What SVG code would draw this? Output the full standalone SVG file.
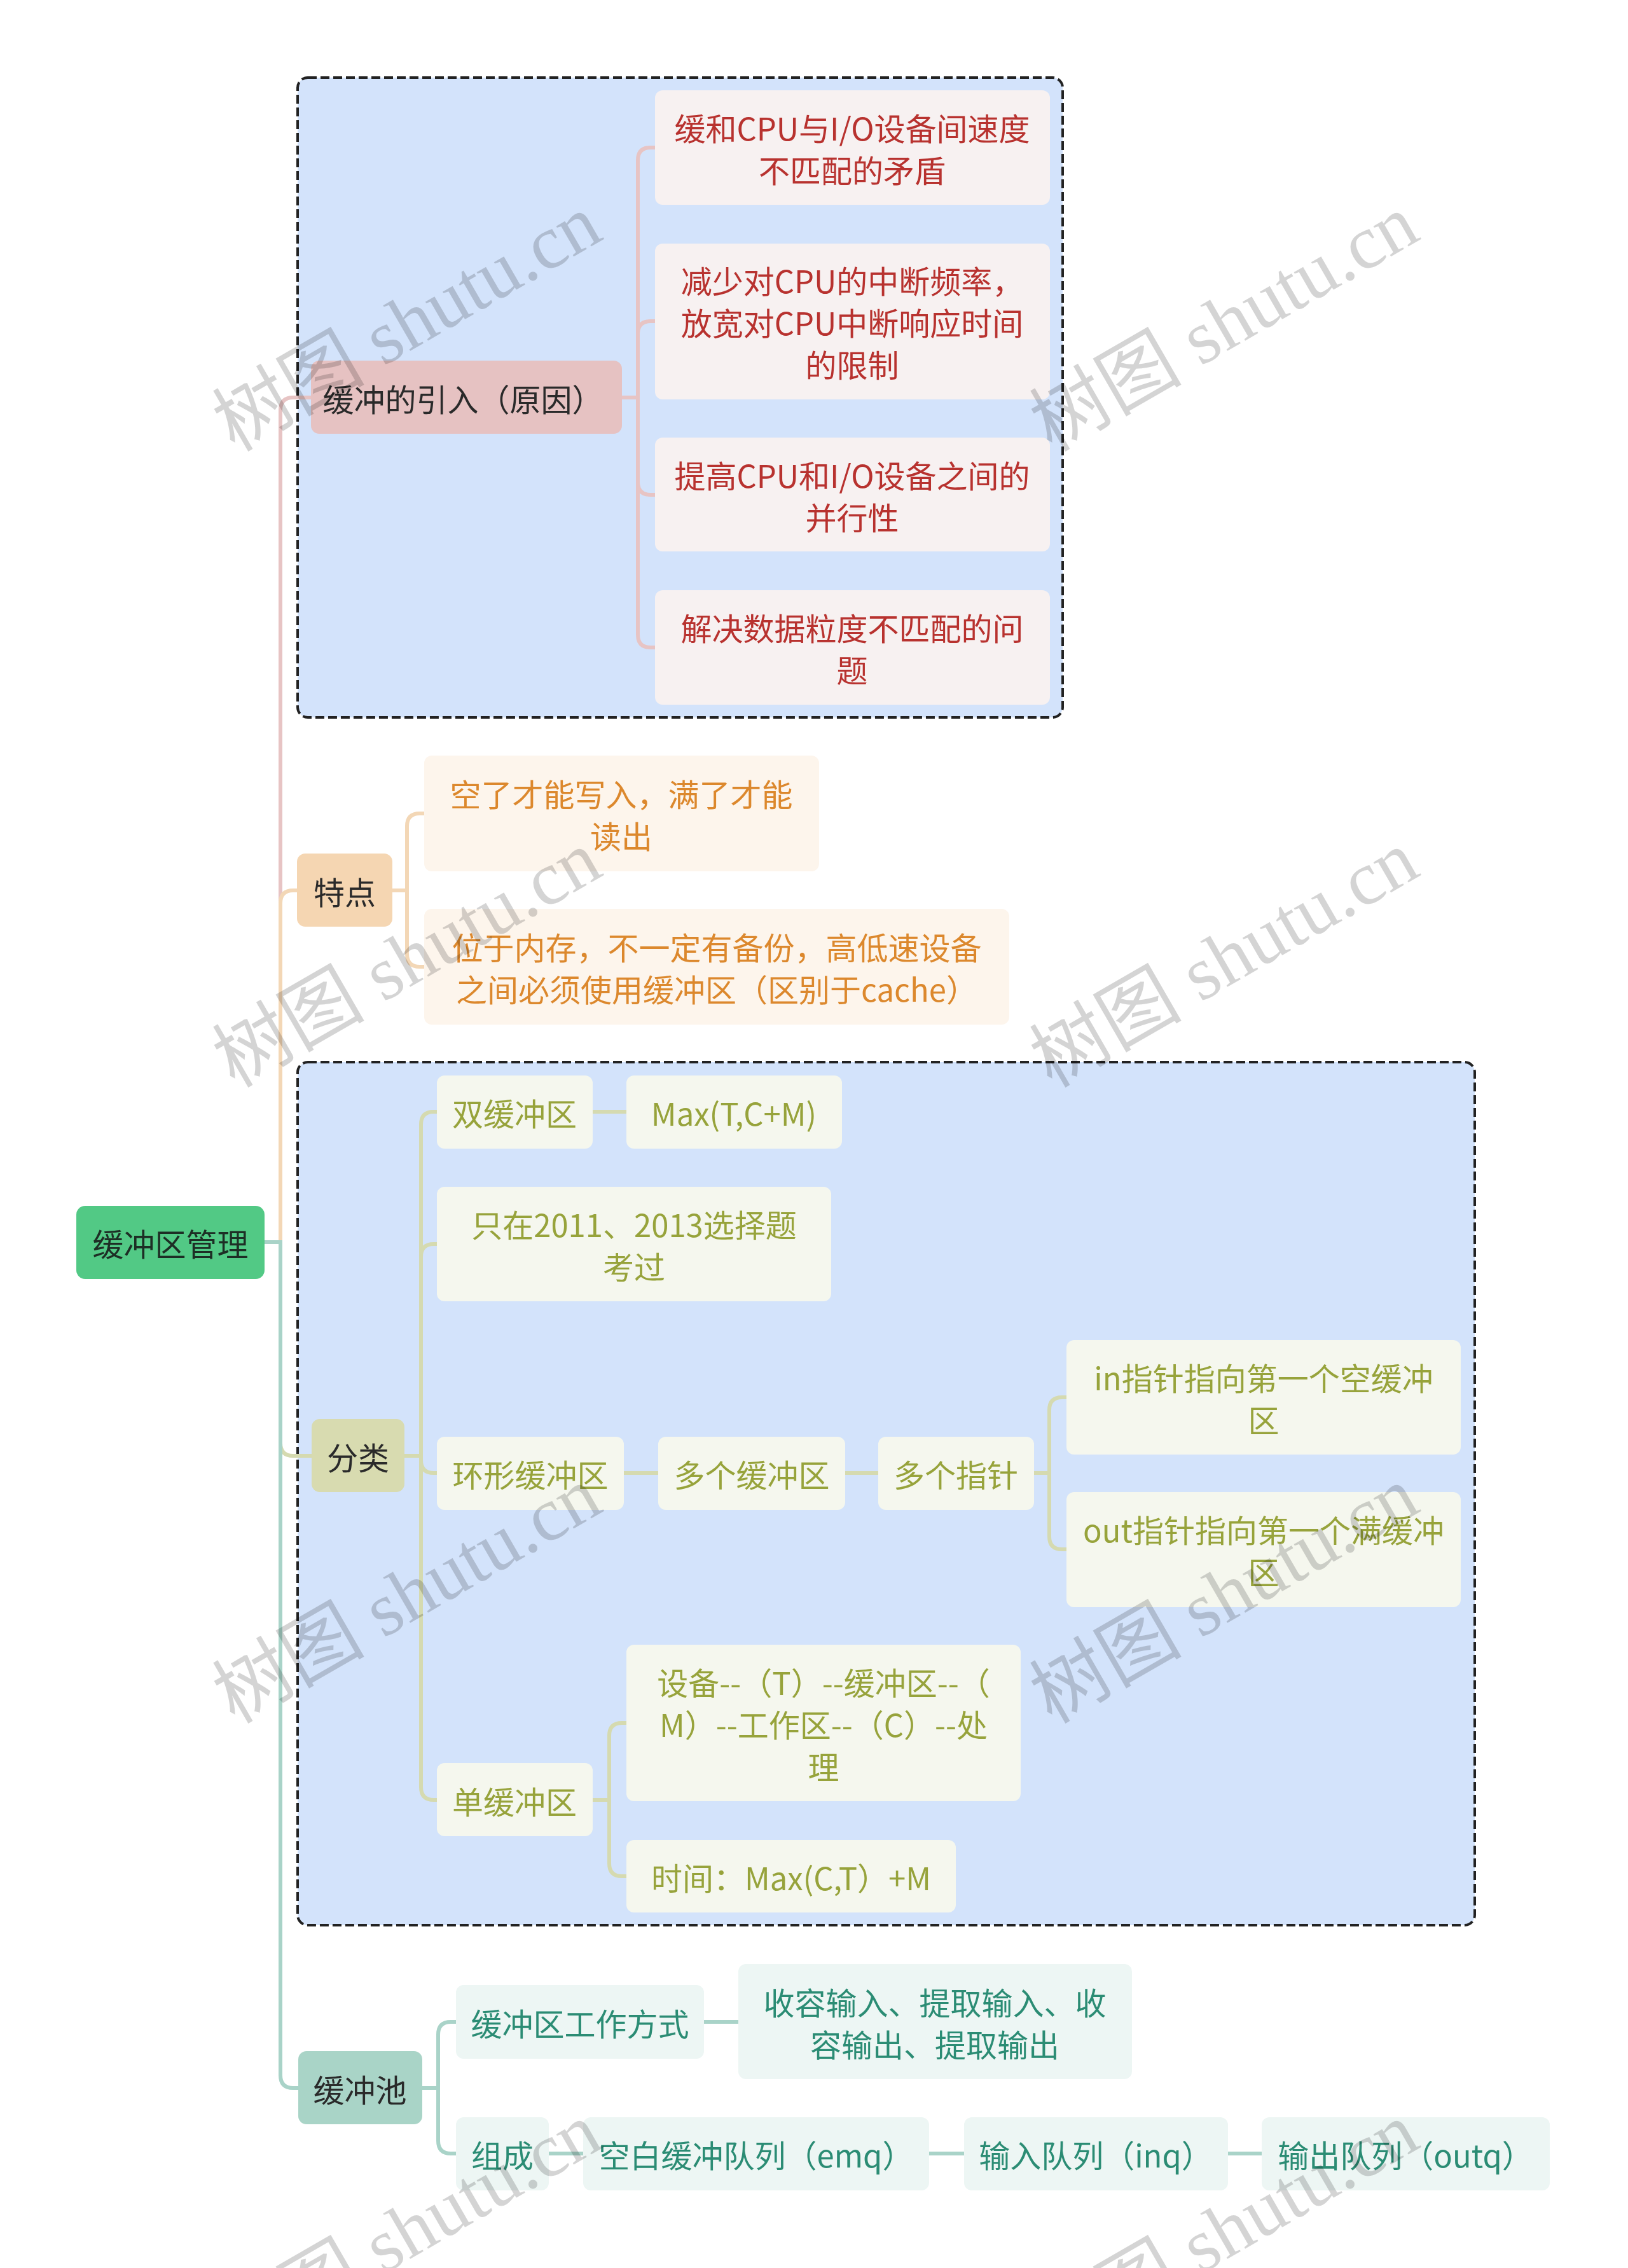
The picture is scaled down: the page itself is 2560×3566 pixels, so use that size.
<svg xmlns="http://www.w3.org/2000/svg" width="2560" height="3566" viewBox="0 0 2560 3566">
<style>
text{font-family:"Noto Sans CJK SC","Noto Sans",sans-serif;font-size:49px;text-anchor:middle;dominant-baseline:central}
.zone{fill:#d3e3fb;stroke:#222;stroke-width:4;stroke-dasharray:14 6}
.c{fill:none;stroke-width:6;stroke-linecap:butt}
.cp{stroke:#e7c4c4}.co{stroke:#f3d7b6}.cl{stroke:#d5dab0}.ct{stroke:#a9d3c8}
.root rect{fill:#52c985}.root text{fill:#1d2e25}
.l1p rect{fill:#e6c2c2}.l1o rect{fill:#f5d6b2}.l1l rect{fill:#d8dbb0}.l1t rect{fill:#a9d4c7}
.l1 text{fill:#2a2a2a}
.lp rect{fill:#f7f1f1}.lp text{fill:#b8322f}
.lo rect{fill:#fdf5ec}.lo text{fill:#dc882d}
.ll rect{fill:#f5f7ee}.ll text{fill:#97a33b}
.lt rect{fill:#edf6f4}.lt text{fill:#2b8c74}
.wm{font-family:"Liberation Serif","Noto Sans CJK SC",serif;font-size:120px;fill:#000;fill-opacity:0.17;text-anchor:middle;dominant-baseline:central}
</style>
<rect width="2560" height="3566" fill="#ffffff"/>
<rect class="zone" x="468" y="122" width="1203" height="1006" rx="16"/>
<rect class="zone" x="468" y="1670" width="1851" height="1357" rx="16"/>
<g id="connectors">
<path class="c cp" d="M416 1953 H441 V645 Q441 625 461 625 H489"/>
<path class="c co" d="M416 1953 H441 V1420 Q441 1400 461 1400 H468"/>
<path class="c cl" d="M416 1953 H441 V2269 Q441 2289 461 2289 H490"/>
<path class="c ct" d="M416 1953 H441 V3263 Q441 3283 461 3283 H470"/>
<path class="c cp" d="M978 625 H1003 V252 Q1003 232 1023 232 H1030"/>
<path class="c cp" d="M978 625 H1003 V525 Q1003 505 1023 505 H1030"/>
<path class="c cp" d="M978 625 H1003 V758 Q1003 778 1023 778 H1030"/>
<path class="c cp" d="M978 625 H1003 V998 Q1003 1018 1023 1018 H1030"/>
<path class="c co" d="M617 1400 H640 V1299 Q640 1279 660 1279 H667"/>
<path class="c co" d="M617 1400 H640 V1500 Q640 1520 660 1520 H667"/>
<path class="c cl" d="M636 2289 H662 V1768 Q662 1748 682 1748 H687"/>
<path class="c cl" d="M636 2289 H662 V1976 Q662 1956 682 1956 H687"/>
<path class="c cl" d="M636 2289 H662 V2296 Q662 2316 682 2316 H687"/>
<path class="c cl" d="M636 2289 H662 V2810 Q662 2830 682 2830 H687"/>
<path class="c cl" d="M932 1748 H985"/>
<path class="c cl" d="M981 2316 H1035"/>
<path class="c cl" d="M1329 2316 H1381"/>
<path class="c cl" d="M1626 2316 H1650 V2217 Q1650 2197 1670 2197 H1677"/>
<path class="c cl" d="M1626 2316 H1650 V2416 Q1650 2436 1670 2436 H1677"/>
<path class="c cl" d="M932 2830 H958 V2729 Q958 2709 978 2709 H985"/>
<path class="c cl" d="M932 2830 H958 V2930 Q958 2950 978 2950 H985"/>
<path class="c ct" d="M664 3283 H689 V3199 Q689 3179 709 3179 H717"/>
<path class="c ct" d="M664 3283 H689 V3366 Q689 3386 709 3386 H717"/>
<path class="c ct" d="M1107 3179 H1161"/>
<path class="c ct" d="M863 3386 H917"/>
<path class="c ct" d="M1461 3386 H1516"/>
<path class="c ct" d="M1931 3386 H1984"/>
</g>
<g id="root" class="root"><rect x="120" y="1896" width="296" height="115" rx="14"/><text x="268" y="1953">缓冲区管理</text></g>
<g id="n-yinru" class="l1 l1p"><rect x="489" y="567" width="489" height="115" rx="13"/><text x="728" y="625">缓冲的引入（原因）</text></g>
<g id="n-a" class="lp"><rect x="1030" y="142" width="621" height="180" rx="12"/><text x="1340" y="199">缓和CPU与I/O设备间速度</text><text x="1340" y="265">不匹配的矛盾</text></g>
<g id="n-b" class="lp"><rect x="1030" y="383" width="621" height="245" rx="12"/><text x="1340" y="439">减少对CPU的中断频率，</text><text x="1340" y="505">放宽对CPU中断响应时间</text><text x="1340" y="571">的限制</text></g>
<g id="n-c" class="lp"><rect x="1030" y="688" width="621" height="179" rx="12"/><text x="1340" y="745">提高CPU和I/O设备之间的</text><text x="1340" y="811">并行性</text></g>
<g id="n-d" class="lp"><rect x="1030" y="928" width="621" height="180" rx="12"/><text x="1340" y="985">解决数据粒度不匹配的问</text><text x="1340" y="1051">题</text></g>
<g id="n-tedian" class="l1 l1o"><rect x="467" y="1342" width="150" height="115" rx="13"/><text x="542" y="1400">特点</text></g>
<g id="n-t1" class="lo"><rect x="667" y="1188" width="621" height="182" rx="12"/><text x="977" y="1246">空了才能写入，满了才能</text><text x="977" y="1312">读出</text></g>
<g id="n-t2" class="lo"><rect x="667" y="1429" width="920" height="182" rx="12"/><text x="1127" y="1487">位于内存，不一定有备份，高低速设备</text><text x="1127" y="1553">之间必须使用缓冲区（区别于cache）</text></g>
<g id="n-fenlei" class="l1 l1l"><rect x="490" y="2231" width="146" height="115" rx="13"/><text x="563" y="2289">分类</text></g>
<g id="n-shuang" class="ll"><rect x="687" y="1691" width="245" height="115" rx="12"/><text x="809" y="1748">双缓冲区</text></g>
<g id="n-max" class="ll"><rect x="985" y="1691" width="339" height="115" rx="12"/><text x="1154" y="1748">Max(T,C+M)</text></g>
<g id="n-kaoguo" class="ll"><rect x="687" y="1866" width="620" height="180" rx="12"/><text x="997" y="1923">只在2011、2013选择题</text><text x="997" y="1989">考过</text></g>
<g id="n-huanxing" class="ll"><rect x="687" y="2259" width="294" height="115" rx="12"/><text x="834" y="2316">环形缓冲区</text></g>
<g id="n-duogehcq" class="ll"><rect x="1035" y="2259" width="294" height="115" rx="12"/><text x="1182" y="2316">多个缓冲区</text></g>
<g id="n-zhizhen" class="ll"><rect x="1381" y="2259" width="245" height="115" rx="12"/><text x="1503" y="2316">多个指针</text></g>
<g id="n-in" class="ll"><rect x="1677" y="2107" width="620" height="180" rx="12"/><text x="1987" y="2164">in指针指向第一个空缓冲</text><text x="1987" y="2230">区</text></g>
<g id="n-out" class="ll"><rect x="1677" y="2346" width="620" height="181" rx="12"/><text x="1987" y="2403">out指针指向第一个满缓冲</text><text x="1987" y="2469">区</text></g>
<g id="n-dan" class="ll"><rect x="687" y="2772" width="245" height="115" rx="12"/><text x="809" y="2830">单缓冲区</text></g>
<g id="n-shebei" class="ll"><rect x="985" y="2586" width="620" height="246" rx="12"/><text x="1295" y="2643">设备--（T）--缓冲区--（</text><text x="1295" y="2709">M）--工作区--（C）--处</text><text x="1295" y="2775">理</text></g>
<g id="n-shijian" class="ll"><rect x="985" y="2893" width="518" height="114" rx="12"/><text x="1244" y="2950">时间：Max(C,T）+M</text></g>
<g id="n-chi" class="l1 l1t"><rect x="469" y="3225" width="195" height="115" rx="13"/><text x="566" y="3283">缓冲池</text></g>
<g id="n-fangshi" class="lt"><rect x="717" y="3121" width="390" height="116" rx="12"/><text x="912" y="3179">缓冲区工作方式</text></g>
<g id="n-shourong" class="lt"><rect x="1161" y="3088" width="619" height="181" rx="12"/><text x="1470" y="3146">收容输入、提取输入、收</text><text x="1470" y="3212">容输出、提取输出</text></g>
<g id="n-zucheng" class="lt"><rect x="717" y="3329" width="146" height="115" rx="12"/><text x="790" y="3386">组成</text></g>
<g id="n-emq" class="lt"><rect x="917" y="3329" width="544" height="115" rx="12"/><text x="1189" y="3386">空白缓冲队列（emq）</text></g>
<g id="n-inq" class="lt"><rect x="1516" y="3329" width="415" height="115" rx="12"/><text x="1723" y="3386">输入队列（inq）</text></g>
<g id="n-outq" class="lt"><rect x="1984" y="3329" width="453" height="115" rx="12"/><text x="2210" y="3386">输出队列（outq）</text></g>
<g id="watermarks">
<text class="wm" transform="translate(640 508) rotate(-30)">树图 shutu.cn</text>
<text class="wm" transform="translate(1925 508) rotate(-30)">树图 shutu.cn</text>
<text class="wm" transform="translate(640 1508) rotate(-30)">树图 shutu.cn</text>
<text class="wm" transform="translate(1925 1508) rotate(-30)">树图 shutu.cn</text>
<text class="wm" transform="translate(640 2508) rotate(-30)">树图 shutu.cn</text>
<text class="wm" transform="translate(1925 2508) rotate(-30)">树图 shutu.cn</text>
<text class="wm" transform="translate(640 3508) rotate(-30)">树图 shutu.cn</text>
<text class="wm" transform="translate(1925 3508) rotate(-30)">树图 shutu.cn</text>
</g>
</svg>
